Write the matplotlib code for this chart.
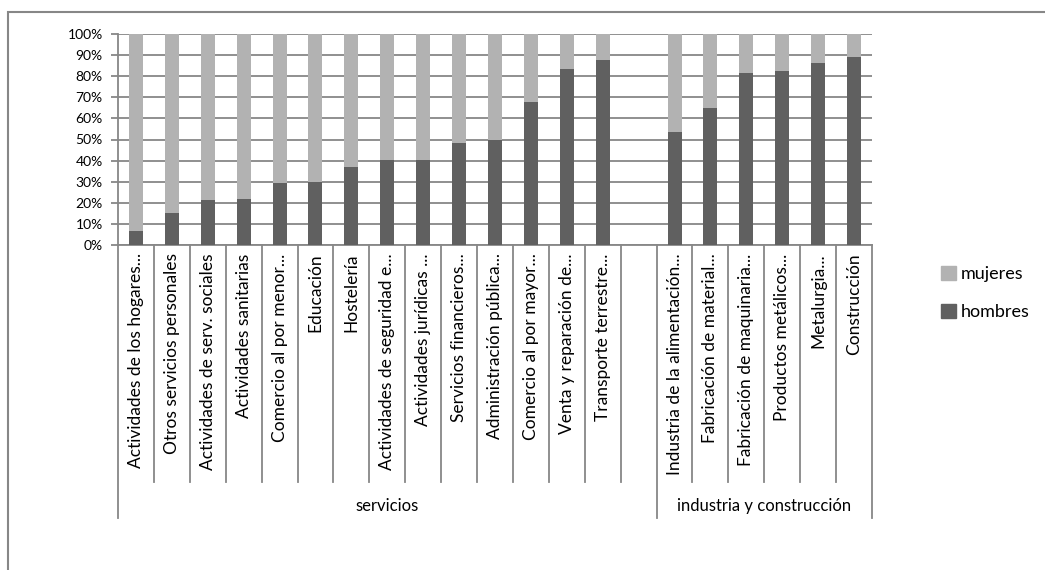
import numpy as np
import matplotlib
matplotlib.use("Agg")
import matplotlib.pyplot as plt
from matplotlib.patches import Rectangle, Patch
from matplotlib.transforms import blended_transform_factory

plt.rcParams['font.family'] = ['Lato', 'DejaVu Sans']

categorias = ["Actividades de los hogares...", "Otros servicios personales",
              "Actividades de serv. sociales", "Actividades sanitarias",
              "Comercio al por menor...", "Educación", "Hostelería",
              "Actividades de seguridad e...", "Actividades jurídicas ...",
              "Servicios financieros...", "Administración pública...",
              "Comercio al por mayor...", "Venta y reparación de...",
              "Transporte terrestre...", "",
              "Industria de la alimentación...", "Fabricación de material...",
              "Fabricación de maquinaria...", "Productos metálicos...",
              "Metalurgia...", "Construcción"]
hombres = [6.5, 15.1, 21.3, 21.6, 29.2, 30.0, 37.0, 40.2, 40.2, 48.4, 50.0,
           67.9, 83.5, 87.5, np.nan, 53.7, 64.8, 81.4, 82.5, 86.2, 88.9]
grupos = ["servicios", "industria y construcción"]
grupo_limites = [(0, 15), (15, 21)]

hombres = np.array(hombres)
mujeres = 100 - hombres
x = np.arange(len(categorias))

c_muj = '#b2b2b2'
c_hom = '#606060'
c_grid = '#878787'

fig = plt.figure(figsize=(10.45, 5.70), dpi=100)
ax = fig.add_axes([118/1045, 1-245/570, (872-118)/1045, (245-34)/570])

ax.bar(x, hombres, width=0.39, color=c_hom, zorder=3)
ax.bar(x, mujeres, width=0.39, bottom=hombres, color=c_muj, zorder=3)

ax.set_xlim(-0.5, len(categorias) - 0.5)
ax.set_ylim(0, 100)
ax.set_yticks(np.arange(0, 101, 10))
ax.set_yticklabels([f"{v}%" for v in range(0, 101, 10)], fontsize=10)
ax.yaxis.grid(True, color=c_grid, linewidth=1.3, zorder=0)
ax.tick_params(axis='y', length=5, color=c_grid, width=1.3, pad=6)
for s in ['top', 'right']:
    ax.spines[s].set_visible(False)
for s in ['left', 'bottom']:
    ax.spines[s].set_color(c_grid)
    ax.spines[s].set_linewidth(1.3)

ax.set_xticks(x)
ax.set_xticklabels(categorias, rotation=90, fontsize=12.5, va='top', ha='center')
ax.tick_params(axis='x', length=0, pad=6)

# separadores del eje de categorias
trans = blended_transform_factory(ax.transData, ax.transAxes)
lvl1 = -(482 - 245) / (245 - 34)
lvl2 = -(518 - 245) / (245 - 34)
bordes_grupo = set()
for a, b in grupo_limites:
    bordes_grupo.add(a - 0.5)
    bordes_grupo.add(b - 0.5)
for k in range(len(categorias) + 1):
    xb = k - 0.5
    y_end = lvl2 if xb in bordes_grupo else lvl1
    ax.plot([xb, xb], [0, y_end], color=c_grid, linewidth=1.3,
            transform=trans, clip_on=False)
for nombre, (a, b) in zip(grupos, grupo_limites):
    ax.text((a + b - 1) / 2, -(506 - 245) / (245 - 34), nombre, transform=trans,
            ha='center', va='center', fontsize=12)

handles = [Patch(color=c_muj), Patch(color=c_hom)]
fig.legend(handles, ['mujeres', 'hombres'], loc='center left',
           bbox_to_anchor=(925/1045, 1-293/570), frameon=False, fontsize=13,
           handlelength=0.8, handleheight=0.8, handletextpad=0.3, labelspacing=1.2)

fig.patches.append(Rectangle((8/1045, -0.05), 1.1, 1.05 - 12/570,
                             transform=fig.transFigure, fill=False,
                             edgecolor=c_grid, linewidth=1.5))

fig.savefig("out.png", dpi=100)
